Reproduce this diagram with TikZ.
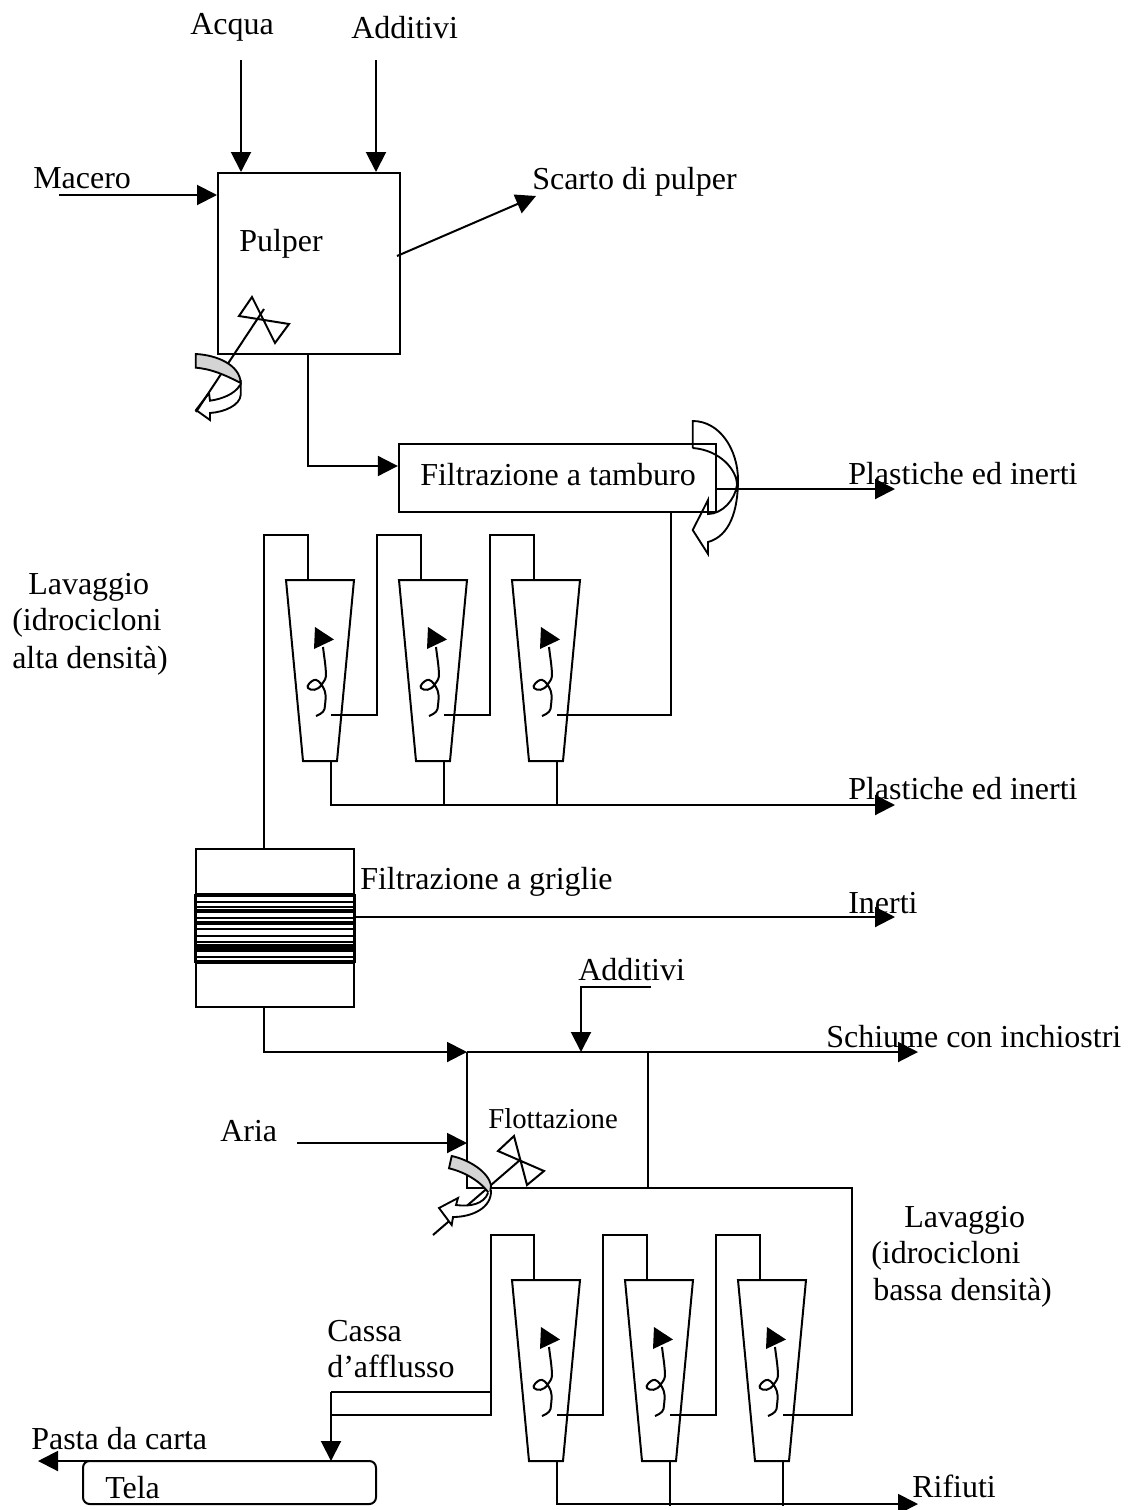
\documentclass[tikz,border=0pt]{standalone}
\usepackage{fontspec}
\setmainfont{Liberation Serif}
\usetikzlibrary{arrows.meta}
\tikzset{
  base/.style={line width=1.5pt,line join=miter,black},
  flow/.style={base},
  arr/.style={base,-{Triangle[length=15pt,width=15pt]}},
  thin line/.style={line width=1.4pt},
  lab/.style={anchor=base west,inner sep=0pt,yshift=-0.75pt,font=\fontsize{24pt}{26pt}\selectfont},
  flab/.style={lab,font=\fontsize{21.6pt}{24pt}\selectfont},
  boxn/.style={base,draw,inner sep=0pt},
  wedgefill/.style={fill=black!17},
}
% one hydrocyclone: name, x shift, y shift
\newcommand{\cyclone}[3]{%
  \begin{scope}[shift={(#2,#3)}]
    \draw[base] (286,580) -- (354,580) -- (337,761) -- (303,761) -- cycle;
    \coordinate (#1-top) at (308,580);
    \coordinate (#1-bot) at (331,761);
    \coordinate (#1-out) at (331,715);
    \draw[line width=1.5pt] (316,716) .. controls (323,713) and (325,711) .. (325,705)
       .. controls (326,697) and (326,692) .. (323,687)
       .. controls (320,682) and (317,679) .. (314,680)
       .. controls (311,681) and (306,686) .. (308,688)
       .. controls (311,691) and (318,691) .. (322,684)
       .. controls (325,680) and (326,678) .. (326,676)
       .. controls (326,667) and (324,656) .. (323,647);
    \fill (315,627) -- (334,639.5) -- (314,649) -- cycle;
  \end{scope}}
\begin{document}
\begin{tikzpicture}[x=0.75pt,y=-0.75pt]
\useasboundingbox (0,0) rectangle (1129,1510);

% ---------- free ends
\coordinate (acquaIn) at (241,60);
\coordinate (addIn) at (376,60);
\coordinate (maceroIn) at (59,195);
\coordinate (scartoOut) at (536,196);
\coordinate (scartoFrom) at (397,256);
\coordinate (plast1) at (895,489);
\coordinate (drumOutStart) at (715,489);
\coordinate (plast2) at (895,805);
\coordinate (inertiOut) at (895,917);
\coordinate (schiumeOut) at (918,1052);
\coordinate (add2Start) at (651,987);
\coordinate (add2Bend) at (581,987);
\coordinate (ariaIn) at (297,1143);
\coordinate (rifiutiOut) at (918,1504);
\coordinate (pastaOut) at (38,1461);
\coordinate (pastaStart) at (105,1461);

% ---------- boxes
\node[boxn,minimum width=136.5pt,minimum height=135.75pt] (pulper) at (309,263.5) {};
\node[boxn,minimum width=238pt,minimum height=51pt] (drum) at (557.5,478) {};
\node[boxn,minimum width=118.5pt,minimum height=118.5pt] (griglie) at (275,928) {};
\node[boxn,rounded corners=5pt,minimum width=219.75pt,minimum height=32.25pt] (tela) at (229.5,1482.5) {};

% ---------- pulper flows
\draw[arr] (acquaIn) -- (acquaIn |- pulper.north);
\draw[arr] (addIn) -- (addIn |- pulper.north);
\draw[arr] (maceroIn) -- (maceroIn -| pulper.west);
\draw[arr] (scartoFrom) -- (scartoOut);
\coordinate (pOut) at (308,354);
\draw[arr] (pOut) -- (308,466) -- (308,466 -| drum.west);
\draw[arr] (drumOutStart) -- (plast1);

% pulper mixer
\draw[base] (252,297) -- (239,316) -- (289,324) -- (275,343) -- cycle;
\draw[base] (264,309) -- (196,412);
\draw[thin line,wedgefill] (195.7,354) .. controls (217,355) and (240,365) .. (240.7,383)
   .. controls (225,375) and (212,369) .. (195.7,367.7) -- cycle;
\draw[thin line] (240.7,380) -- (240.7,395) .. controls (240,405) and (225,412) .. (210,413)
   -- (210,420) -- (196,410) -- (209,393) -- (210,400.7)
   .. controls (222,399) and (235,394) .. (240,385);

% drum rotating arrow
\draw[thin line] (692.7,448) -- (692.7,421)
   .. controls (720,421) and (738,450) .. (738,480)
   .. controls (738,510) and (730,536) .. (708,542)
   -- (708,554) -- (692.7,530) -- (708,500) -- (708,514)
   .. controls (722,514) and (735,500) .. (737,485)
   .. controls (737,470) and (720,450) .. (692.7,448);

% ---------- upper cyclones
\cyclone{ca}{0}{0}
\cyclone{cb}{113}{0}
\cyclone{cc}{226}{0}
\coordinate (drumDown) at (671,512);
\draw[flow] (drumDown) -- (671,715) -- (cc-out);
\draw[flow] (griglie.north -| 264,0) -- (264,535) -- (308,535) -- (ca-top);
\draw[flow] (ca-out) -- (377,715) -- (377,535) -- (421,535) -- (cb-top);
\draw[flow] (cb-out) -- (490,715) -- (490,535) -- (534,535) -- (cc-top);
\coordinate (lineA) at (331,805);
\draw[arr] (ca-bot) -- (lineA) -- (plast2);
\draw[flow] (cb-bot) -- (444,805);
\draw[flow] (cc-bot) -- (557,805);

% ---------- grids
\foreach \yy/\w in {895/2.4,902/1.6,907/2.2,911/2.6,918/1.6,923/2.6,929/1.7,936/1.7,942/1.7,946/2.4,950/2.6,957/2.2,962/3.2}
  \draw[line width=\w pt] (195,\yy) -- (354.5,\yy);
\draw[line width=2.2pt] (195,894) -- (195,963);
\draw[line width=2.2pt] (354.5,894) -- (354.5,963);
\draw[arr] (griglie.east |- inertiOut) -- (inertiOut);

% ---------- flotation
\coordinate (flotTL) at (467,1052);
\coordinate (flotBL) at (467,1188);
\coordinate (flotTR) at (648,1052);
\coordinate (flotBR) at (648,1188);
\coordinate (rightEnd) at (852,1188);
\draw[arr] (griglie.south -| 264,0) -- (264,1052) -- (flotTL);
\draw[arr] (flotTL) -- (schiumeOut);
\draw[flow] (flotTL) -- (flotBL) -- (rightEnd) -- (852,1415) -- (783,1415);
\draw[flow] (flotTR) -- (flotBR);
\draw[arr] (add2Start) -- (add2Bend) -- (581,1052);
\draw[arr] (ariaIn) -- (ariaIn -| flotTL);

% flotation mixer
\draw[base] (514,1136) -- (498,1151) -- (544,1171) -- (527,1185) -- cycle;
\draw[base] (520,1160) -- (433,1235);
\draw[thin line,wedgefill] (451.7,1156) .. controls (470,1160) and (488,1172) .. (491,1185)
   -- (490,1195) .. controls (482,1182) and (465,1172) .. (449,1168.3) -- cycle;
\draw[thin line,fill=white] (491,1190) .. controls (492,1208) and (472,1217) .. (453,1217)
   -- (451.7,1225) -- (439,1208) -- (458,1198) -- (456,1205)
   .. controls (470,1207) and (484,1204) .. (488,1193);

% ---------- lower cyclones
\cyclone{cd}{226}{700}
\cyclone{ce}{339}{700}
\cyclone{cf}{452}{700}
\coordinate (leftTop) at (491,1235);
\draw[flow] (331,1415) -- (491,1415) -- (491,1392) -- (331,1392);
\draw[flow] (491,1392) -- (leftTop) -- (534,1235) -- (cd-top);
\draw[flow] (cd-out) -- (603,1415) -- (603,1235) -- (647,1235) -- (ce-top);
\draw[flow] (ce-out) -- (716,1415) -- (716,1235) -- (760,1235) -- (cf-top);
\draw[arr] (331,1392) -- (331 ,1461);
\draw[arr] (cd-bot) -- (557,1504) -- (rifiutiOut);
\draw[flow] (ce-bot) -- (670,1506);
\draw[flow] (cf-bot) -- (783,1506);
\draw[arr] (pastaStart) -- (pastaOut);

% ---------- labels
\node[lab] (t1) at (190,33) {Acqua};
\node[lab] (t2) at (351,37) {Additivi};
\node[lab] (t3) at (33,187) {Macero};
\node[lab] (t4) at (532,188) {Scarto di pulper};
\node[lab] (t5) at (239,250) {Pulper};
\node[lab] (t6) at (420,484) {Filtrazione a tamburo};
\node[lab] (t7) at (848,483) {Plastiche ed inerti};
\node[lab] (t8) at (28,593) {Lavaggio};
\node[lab] (t9) at (12,629) {(idrocicloni};
\node[lab] (t10) at (12,667) {alta densità)};
\node[lab] (t11) at (848,798) {Plastiche ed inerti};
\node[lab] (t12) at (360,888) {Filtrazione a griglie};
\node[lab] (t13) at (848,912) {Inerti};
\node[lab] (t14) at (578,979) {Additivi};
\node[lab] (t15) at (826,1046) {Schiume con inchiostri};
\node[flab] (t16) at (488,1127) {Flottazione};
\node[lab] (t17) at (220,1140) {Aria};
\node[lab] (t18) at (904,1226) {Lavaggio};
\node[lab] (t19) at (871,1262) {(idrocicloni};
\node[lab] (t20) at (873,1299) {bassa densità)};
\node[lab] (t21) at (327,1340) {Cassa};
\node[lab] (t22) at (327,1376) {d’afflusso};
\node[lab] (t23) at (31,1448) {Pasta da carta};
\node[lab] (t24) at (105,1497) {Tela};
\node[lab] (t25) at (912,1496) {Rifiuti};
\end{tikzpicture}
\end{document}
